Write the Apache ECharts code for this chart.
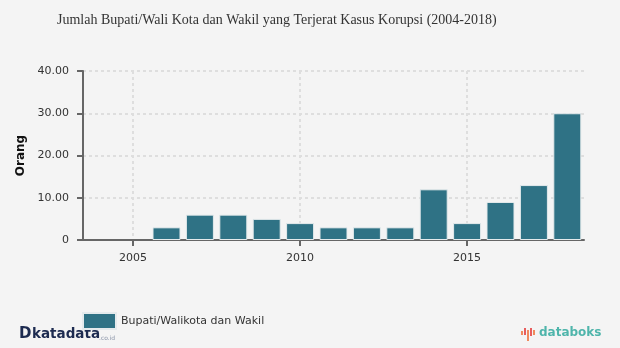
<!DOCTYPE html>
<html>
<head>
<meta charset="utf-8">
<script src="https://cdn.jsdelivr.net/npm/echarts@6/dist/echarts.min.js"></script>
<style>
html,body{margin:0;padding:0;background:#f4f4f4;}
#chart{width:620px;height:348px;}
</style>
</head>
<body>
<div id="chart"></div>
<script>
var years = [2004, 2005, 2006, 2007, 2008, 2009, 2010, 2011, 2012, 2013, 2014, 2015, 2016, 2017, 2018];
var values = [0, 0, 3, 6, 6, 5, 4, 3, 3, 3, 12, 4, 9, 13, 30];
var xTickLabels = [2005, 2010, 2015];
var seriesName = 'Bupati/Walikota dan Wakil';
var titleText = 'Jumlah Bupati/Wali Kota dan Wakil yang Terjerat Kasus Korupsi (2004-2018)';

var chart = echarts.init(document.getElementById('chart'));
var data = years.map(function (y, i) {
  var d = { value: [y, values[i]] };
  if (values[i] === 0) d.itemStyle = { borderWidth: 0 };
  return d;
});
var color = '#2f7285';

chart.setOption({
  backgroundColor: '#f4f4f4',
  animation: false,
  title: {
    text: titleText,
    left: 52, top: 8,
    textStyle: { fontFamily: 'Liberation Serif', fontWeight: 'normal', fontSize: 14, color: '#333' }
  },
  legend: {
    left: 77, top: 307,
    itemWidth: 33, itemHeight: 16, itemGap: 6,
    textStyle: { fontFamily: 'DejaVu Sans', fontSize: 11, color: '#333' },
    data: [{ name: seriesName, icon: 'rect' }]
  },
  grid: { left: 83, right: 36, top: 71, bottom: 108 },
  xAxis: {
    type: 'value', min: 2003.5, max: 2018.5,
    axisLine: { show: true, onZero: false, lineStyle: { color: '#666', width: 2 } },
    axisTick: { show: true, customValues: xTickLabels, length: 6, lineStyle: { color: '#666', width: 2 } },
    axisLabel: {
      customValues: xTickLabels, fontFamily: 'DejaVu Sans', fontSize: 11, color: '#333', margin: 13,
      formatter: function (v) { return String(v); }
    },
    splitLine: { show: true, lineStyle: { color: '#dedede', type: [3, 3], width: 2 } }
  },
  yAxis: {
    type: 'value', min: 0, max: 40, interval: 10,
    name: 'Orang', nameLocation: 'middle', nameGap: 53, nameRotate: 90,
    nameTextStyle: { fontFamily: 'DejaVu Sans', fontWeight: 'bold', fontSize: 12, color: '#111' },
    axisLine: { show: true, lineStyle: { color: '#666', width: 2 } },
    axisTick: { show: true, length: 6, lineStyle: { color: '#666', width: 2 } },
    axisLabel: {
      fontFamily: 'DejaVu Sans', fontSize: 11, color: '#333', margin: 14,
      formatter: function (v) { return v === 0 ? '0' : v.toFixed(2); }
    },
    splitLine: { show: true, lineStyle: { color: '#dedede', type: [3, 3], width: 2 } }
  },
  series: [{
    name: seriesName,
    type: 'bar',
    data: data,
    barWidth: 28,
    itemStyle: { color: color, borderColor: '#e4eaec', borderWidth: 1 }
  }],
  graphic: [
    { type: 'text', left: 19, top: 327, style: { text: 'D', fontFamily: 'DejaVu Sans', fontWeight: 'bold', fontSize: 15, fill: '#1d2b50' } },
    { type: 'text', left: 32, top: 327, style: { text: 'katadata', fontFamily: 'DejaVu Sans', fontWeight: 'bold', fontSize: 13.5, fill: '#1d2b50' } },
    { type: 'text', left: 99, top: 335, style: { text: '.co.id', fontFamily: 'DejaVu Sans', fontSize: 6, fill: '#8a94a8' } },
    { type: 'rect', shape: { x: 521, y: 331, width: 2, height: 4 }, style: { fill: '#f08a5d' } },
    { type: 'rect', shape: { x: 524, y: 328, width: 2, height: 7 }, style: { fill: '#e85d5d' } },
    { type: 'rect', shape: { x: 527, y: 330, width: 2, height: 11 }, style: { fill: '#f08a5d' } },
    { type: 'rect', shape: { x: 530, y: 328, width: 2, height: 8 }, style: { fill: '#e85d5d' } },
    { type: 'rect', shape: { x: 533, y: 330, width: 2, height: 5 }, style: { fill: '#f08a5d' } },
    { type: 'text', left: 539, top: 327, style: { text: 'databoks', fontFamily: 'DejaVu Sans', fontWeight: 'bold', fontSize: 12, fill: '#4fb5ab' } }
  ]
});
</script>
</body>
</html>
